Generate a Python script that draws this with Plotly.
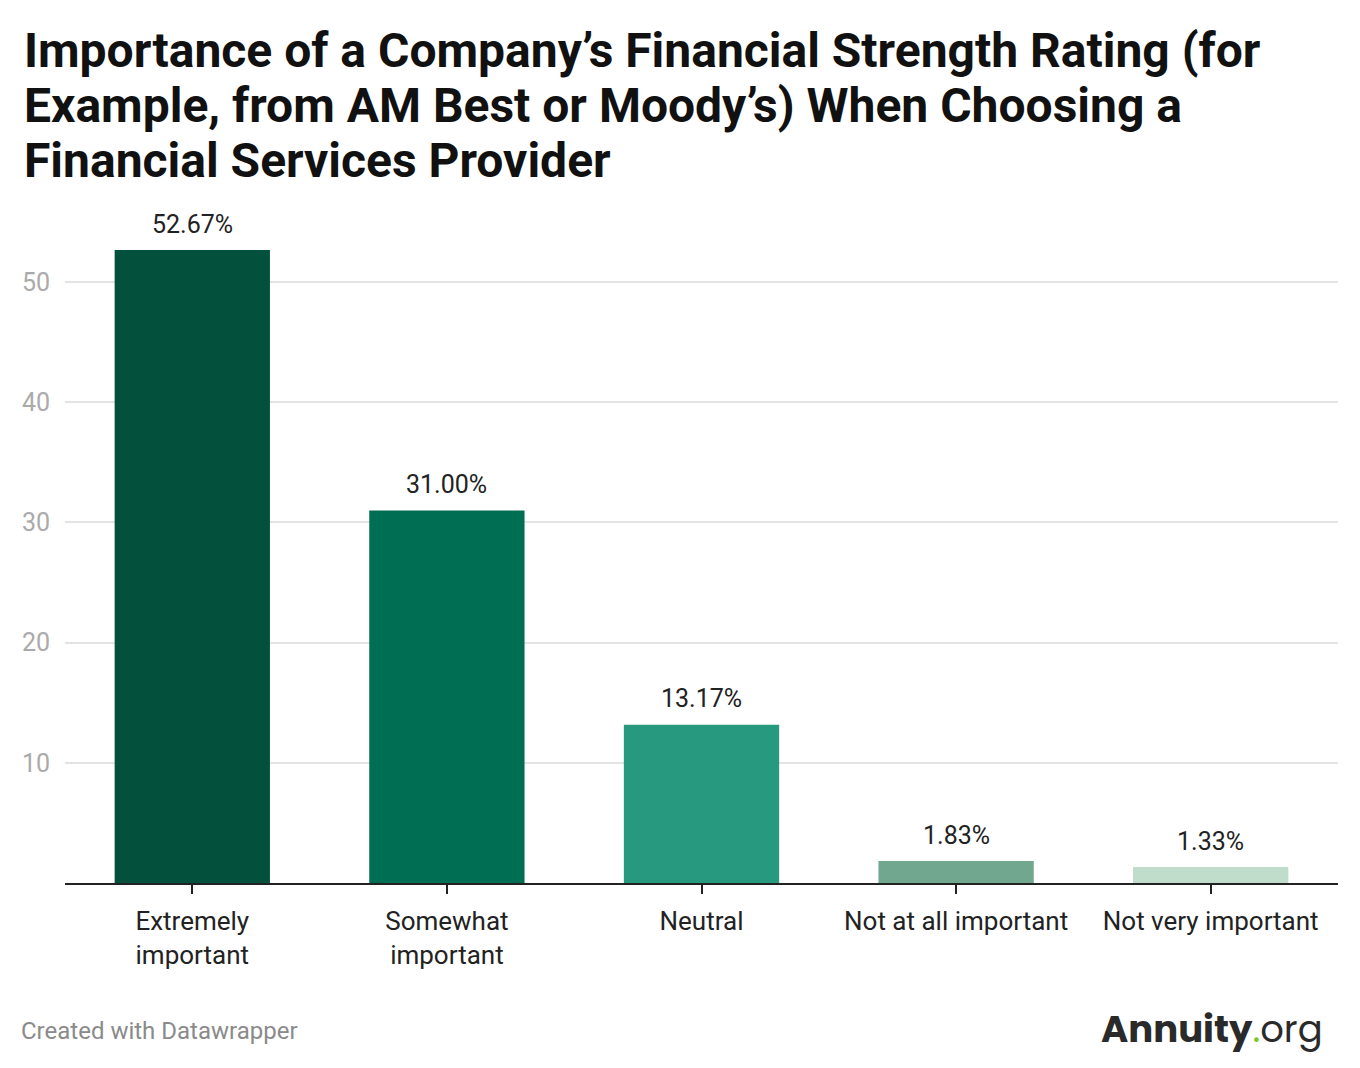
import plotly.graph_objects as go

categories = ["Extremely<br>important", "Somewhat<br>important", "Neutral",
              "Not at all important", "Not very important"]
values = [52.67, 31.00, 13.17, 1.83, 1.33]
colors = ["#03513c", "#006e53", "#26997e", "#72a78f", "#c0dccb"]
y_ticks = [10, 20, 30, 40, 50]
title_lines = ["Importance of a Company’s Financial Strength Rating (for",
               "Example, from AM Best or Moody’s) When Choosing a",
               "Financial Services Provider"]

fig = go.Figure(go.Bar(
    x=categories, y=values, marker_color=colors, marker_line_width=0,
    width=0.61, hoverinfo="x+y",
))

annotations = []
# value labels above bars
for c, v in zip(categories, values):
    annotations.append(dict(x=c, y=v, text=f"{v:.2f}%", yshift=26,
                            showarrow=False, yanchor="middle",
                            font=dict(size=25, color="#222")))
# title, one line per annotation for tight line spacing
for i, line in enumerate(title_lines):
    annotations.append(dict(text=f"<b>{line}</b>", xref="paper", yref="paper",
                            x=-0.034, y=1.0, yshift=172 - 55 * i,
                            xanchor="left", yanchor="middle", align="left",
                            showarrow=False,
                            font=dict(size=48, color="#111", family="Roboto")))
annotations += [
    dict(text="Created with Datawrapper", xref="paper", yref="paper",
         x=-0.036, y=0, yshift=-148, xanchor="left", yanchor="middle",
         showarrow=False, font=dict(size=24, color="#8a8a8a")),
    dict(text="<b>Annuity</b><span style='color:#7cc524'>.</span>org",
         xref="paper", yref="paper", x=0.99, y=0, yshift=-146,
         xanchor="right", yanchor="middle", showarrow=False,
         font=dict(size=37, color="#2a2a2a", family="Poppins, Lato")),
]

fig.update_layout(
    width=1360, height=1068, plot_bgcolor="white", paper_bgcolor="white",
    font=dict(family="Roboto", color="#222"),
    margin=dict(l=57, r=30, t=214, b=193),
    showlegend=False, annotations=annotations,
)
fig.update_xaxes(showline=True, linecolor="#222", linewidth=2, ticks="outside",
                 tickcolor="#222", ticklen=9, tickwidth=2, ticklabelstandoff=5,
                 tickfont=dict(size=26, color="#222"))
fig.update_yaxes(range=[0, 55], tickvals=y_ticks, showgrid=True,
                 gridcolor="#e3e3e3", gridwidth=2, zeroline=False,
                 tickfont=dict(size=25, color="#aaa"), ticklabelstandoff=14)

fig.write_html("out.html")
